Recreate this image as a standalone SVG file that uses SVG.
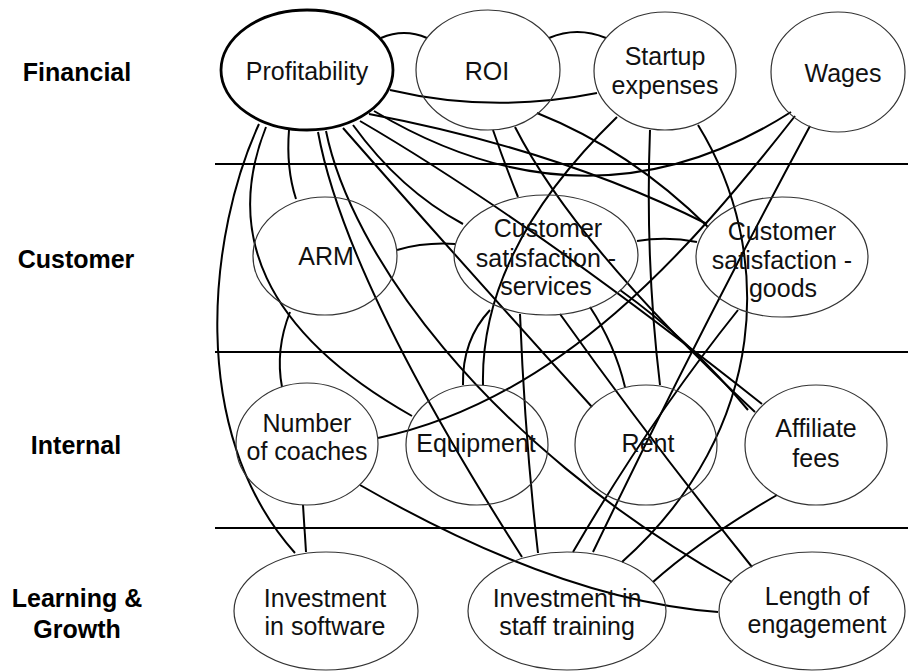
<svg xmlns="http://www.w3.org/2000/svg" width="908" height="671" viewBox="0 0 908 671">
<style>
.bg{fill:#fff}
.band{stroke:#000;stroke-width:1.8}
.node{fill:none;stroke:#333;stroke-width:1.2}
.main{fill:none;stroke:#000;stroke-width:2.8}
.edge{fill:none;stroke:#000;stroke-width:2}
.t{font-family:"Liberation Sans",Arial,Helvetica,sans-serif;font-size:25px;fill:#111;text-anchor:middle}
.row{font-family:"Liberation Sans",Arial,Helvetica,sans-serif;font-size:25px;font-weight:bold;fill:#000;text-anchor:middle}
</style>
<rect class="bg" x="0" y="0" width="908" height="671"/>
<g id="bands">
<line class="band" x1="215" y1="164" x2="908" y2="164"/>
<line class="band" x1="215" y1="352" x2="908" y2="352"/>
<line class="band" x1="215" y1="528" x2="908" y2="528"/>
</g>
<g id="row-labels">
<text class="row" x="77" y="81">Financial</text>
<text class="row" x="76" y="268">Customer</text>
<text class="row" x="76" y="454">Internal</text>
<text class="row" x="77" y="607">Learning &amp;</text>
<text class="row" x="77" y="638">Growth</text>
</g>
<g id="connectors">
<path class="edge" d="M381,38 Q404,28 427,38"/>
<path class="edge" d="M549,38 Q577,26 606,38"/>
<path class="edge" d="M390,90 Q492,114 597,93"/>
<path class="edge" d="M374,111 Q590,240 791,112"/>
<path class="edge" d="M259,124 C210,230 185,430 295,553"/>
<path class="edge" d="M266,127 C225,230 260,330 412,416"/>
<path class="edge" d="M289,130 Q286,168 296,199"/>
<path class="edge" d="M318,132 Q345,280 522,557"/>
<path class="edge" d="M326,131 C350,250 480,440 732,582"/>
<path class="edge" d="M343,128 Q450,250 592,407"/>
<path class="edge" d="M353,125 Q400,190 463,224"/>
<path class="edge" d="M360,121 Q530,220 762,404"/>
<path class="edge" d="M369,114 Q560,150 707,224"/>
<path class="edge" d="M493,130 Q505,165 518,197"/>
<path class="edge" d="M515,127 Q575,245 755,412"/>
<path class="edge" d="M537,113 Q630,150 708,227"/>
<path class="edge" d="M617,117 Q480,250 483,385"/>
<path class="edge" d="M650,130 Q645,260 660,385"/>
<path class="edge" d="M698,125 C775,250 770,430 622,562"/>
<path class="edge" d="M795,116 C690,250 560,400 378,438"/>
<path class="edge" d="M810,126 Q700,330 593,552"/>
<path class="edge" d="M738,310 Q650,420 573,552"/>
<path class="edge" d="M590,307 Q615,345 625,387"/>
<path class="edge" d="M560,314 Q650,440 752,567"/>
<path class="edge" d="M520,314 Q525,440 538,553"/>
<path class="edge" d="M490,310 Q462,340 463,385"/>
<path class="edge" d="M620,290 Q690,340 748,410"/>
<path class="edge" d="M397,250 Q425,242 455,244"/>
<path class="edge" d="M637,241 Q667,236 697,242"/>
<path class="edge" d="M290,312 Q275,350 282,387"/>
<path class="edge" d="M303,505 L306,552"/>
<path class="edge" d="M360,485 Q560,600 718,612"/>
<path class="edge" d="M777,495 Q700,540 653,582"/>
</g>
<g id="profitability"><ellipse class="main" cx="307" cy="70" rx="86" ry="60"/><text class="t" x="307" y="80">Profitability</text></g>
<g id="roi"><ellipse class="node" cx="488" cy="70" rx="72" ry="60"/><text class="t" x="487" y="80">ROI</text></g>
<g id="startup-expenses"><ellipse class="node" cx="665" cy="71" rx="71" ry="59"/><text class="t" x="665" y="65">Startup</text><text class="t" x="665" y="94">expenses</text></g>
<g id="wages"><ellipse class="node" cx="838" cy="72" rx="67" ry="60"/><text class="t" x="843" y="82">Wages</text></g>
<g id="arm"><ellipse class="node" cx="325" cy="256" rx="72" ry="59"/><text class="t" x="326" y="265">ARM</text></g>
<g id="cs-services"><ellipse class="node" cx="546" cy="255" rx="92" ry="60"/><text class="t" x="548" y="237">Customer</text><text class="t" x="546" y="267">satisfaction -</text><text class="t" x="546" y="295">services</text></g>
<g id="cs-goods"><ellipse class="node" cx="782" cy="257" rx="86" ry="60"/><text class="t" x="782" y="240">Customer</text><text class="t" x="782" y="269">satisfaction -</text><text class="t" x="783" y="297">goods</text></g>
<g id="number-of-coaches"><ellipse class="node" cx="307" cy="444" rx="71" ry="61"/><text class="t" x="307" y="432">Number</text><text class="t" x="307" y="460">of coaches</text></g>
<g id="equipment"><ellipse class="node" cx="477" cy="445" rx="71" ry="60"/><text class="t" x="476" y="452">Equipment</text></g>
<g id="rent"><ellipse class="node" cx="646" cy="445" rx="71" ry="60"/><text class="t" x="648" y="452">Rent</text></g>
<g id="affiliate-fees"><ellipse class="node" cx="816" cy="445" rx="71" ry="60"/><text class="t" x="816" y="437">Affiliate</text><text class="t" x="816" y="467">fees</text></g>
<g id="investment-software"><ellipse class="node" cx="326" cy="611" rx="92" ry="59"/><text class="t" x="325" y="607">Investment</text><text class="t" x="325" y="635">in software</text></g>
<g id="investment-staff"><ellipse class="node" cx="567" cy="611" rx="99" ry="59"/><text class="t" x="567" y="607">Investment in</text><text class="t" x="567" y="635">staff training</text></g>
<g id="length-engagement"><ellipse class="node" cx="812" cy="611" rx="93" ry="59"/><text class="t" x="817" y="605">Length of</text><text class="t" x="817" y="633">engagement</text></g>
</svg>
